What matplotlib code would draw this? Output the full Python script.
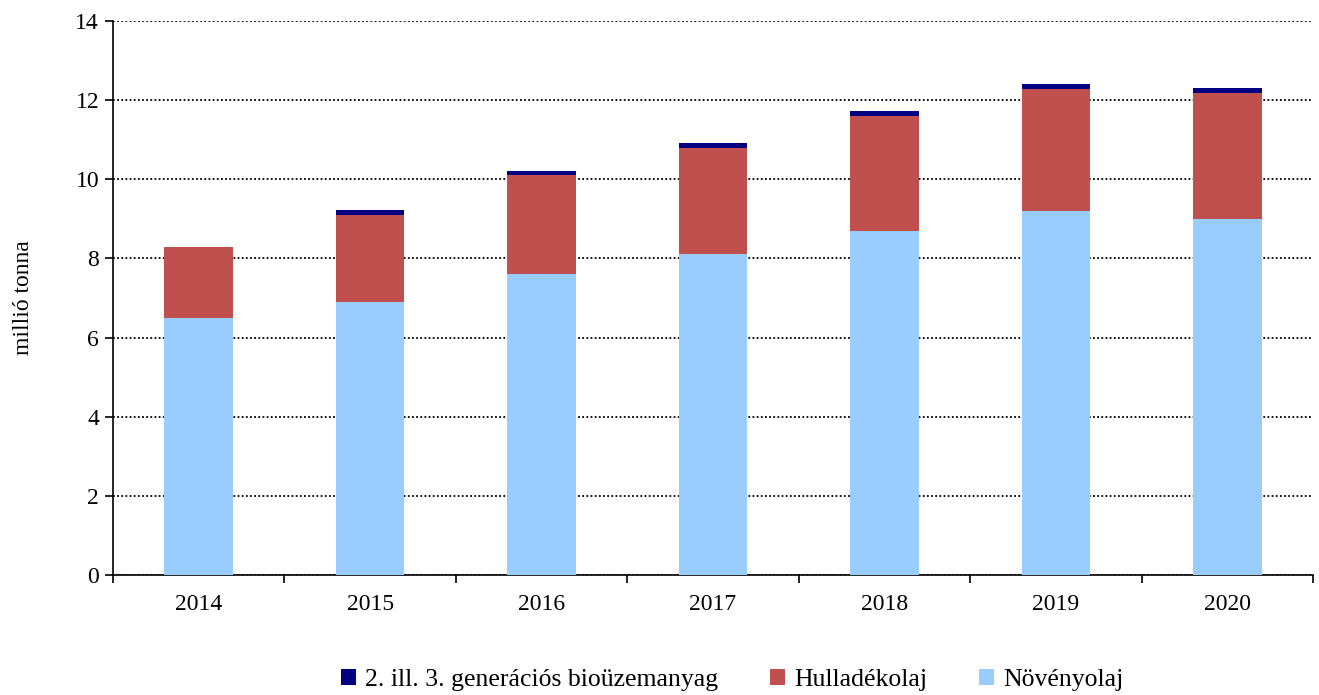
import numpy as np
import matplotlib
matplotlib.use("Agg")
import matplotlib.pyplot as plt
from matplotlib.ticker import MultipleLocator, FixedLocator

plt.rcParams["font.family"] = ["Liberation Serif", "DejaVu Serif"]

# Adatok (millió tonna)
evek = ["2014", "2015", "2016", "2017", "2018", "2019", "2020"]
novenyolaj = [6.5, 6.9, 7.6, 8.1, 8.7, 9.2, 9.0]
hulladekolaj = [1.8, 2.2, 2.5, 2.7, 2.9, 3.08, 3.18]
generacios = [0.0, 0.12, 0.12, 0.12, 0.12, 0.12, 0.12]

C_NOV = "#99CCFF"
C_HUL = "#C0504D"
C_GEN = "#000080"

fig = plt.figure(figsize=(13.19, 6.95), dpi=100)
ax = fig.add_axes([113 / 1319, 1 - 575 / 695, 1200 / 1319, 554 / 695])

x = np.arange(len(evek))
w = 0.4
nov = np.array(novenyolaj)
hul = np.array(hulladekolaj)
gen = np.array(generacios)

ax.bar(x, nov, w, color=C_NOV, label="Növényolaj", zorder=3)
ax.bar(x, hul, w, bottom=nov, color=C_HUL, label="Hulladékolaj", zorder=3)
ax.bar(x, gen, w, bottom=nov + hul, color=C_GEN,
       label="2. ill. 3. generációs bioüzemanyag", zorder=3)

ax.set_xlim(-0.5, len(evek) - 0.5)
ax.set_ylim(0, 14)
ax.yaxis.set_major_locator(MultipleLocator(2))
ax.yaxis.grid(True, color="black", linestyle=(0, (1, 1.3)), lw=1.3, zorder=1)
ax.set_axisbelow(True)

ax.set_xticks(x)
ax.set_xticklabels(evek)
ax.xaxis.set_minor_locator(FixedLocator(np.arange(-0.5, len(evek), 1)))
ax.tick_params(axis="x", which="major", length=0, pad=14, labelsize=17)
ax.tick_params(axis="x", which="minor", length=6, direction="out", width=1.2)
ax.tick_params(axis="y", length=6, direction="out", width=1.2, labelsize=17, pad=4)

for s in ["top", "right"]:
    ax.spines[s].set_visible(False)
for s in ["left", "bottom"]:
    ax.spines[s].set_linewidth(1.2)

ax.set_ylabel("millió tonna", fontsize=17, labelpad=30)

h, l = ax.get_legend_handles_labels()
fig.legend(h[::-1], l[::-1], loc="center", bbox_to_anchor=(0.555, 1 - 680 / 695),
           ncol=3, frameon=False, fontsize=18.5, handlelength=0.6, handleheight=0.6,
           handletextpad=0.35, columnspacing=2.0)

fig.savefig("out.png", dpi=100)
